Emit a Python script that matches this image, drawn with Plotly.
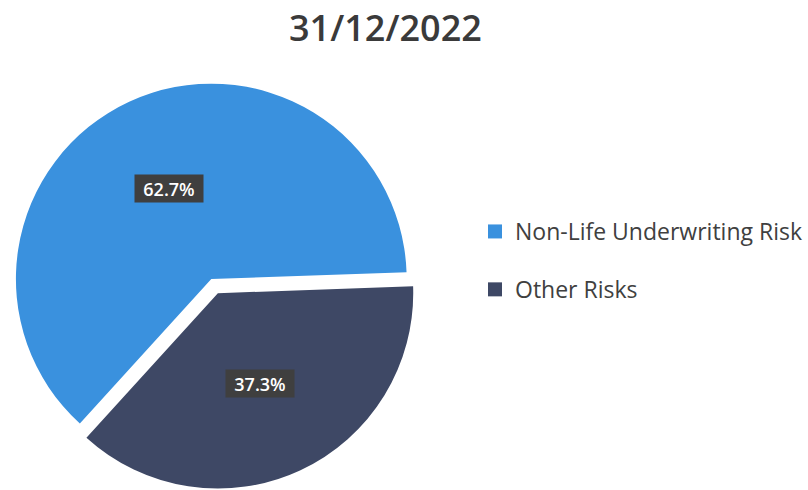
import math
import plotly.graph_objects as go

# ---- data ----
title_text = "31/12/2022"
categories = ["Non-Life Underwriting Risk", "Other Risks"]
shares = [62.7, 37.3]
pulls = [0.0, 0.08]
colors = ["#3a91de", "#3e4865"]

# ---- layout constants ----
W, H = 808, 490
M_TOP = 68
dom_x = [0.0, 0.523]
dom_y = [0.0, 1.0]
end_bearing = 88  # where the Other Risks slice begins (degrees clockwise from 12 o'clock)
total = sum(shares)
rotation = end_bearing + 360 * shares[1] / total
if rotation > 180:
    rotation -= 360

fig = go.Figure()
fig.add_trace(go.Pie(
    labels=categories,
    values=shares,
    pull=pulls,
    sort=False,
    direction="clockwise",
    rotation=rotation,
    marker=dict(colors=colors, line=dict(width=0)),
    textinfo="none",
    hoverinfo="label+percent",
    showlegend=False,
    domain=dict(x=dom_x, y=dom_y),
))

# legend entries (square markers) via empty scatter traces
for i, (c, col) in enumerate(zip(categories, colors)):
    fig.add_trace(go.Scatter(
        x=[None], y=[None], mode="markers", name=c,
        marker=dict(symbol="square", size=14, color=col),
        legendgroup=f"g{i}", showlegend=True,
    ))

# percentage labels with dark boxes, positioned from the slice angles
plot_h = H - M_TOP
box_w = (dom_x[1] - dom_x[0]) * W
box_h = (dom_y[1] - dom_y[0]) * plot_h
cx = (dom_x[0] + dom_x[1]) / 2 * W
cy = M_TOP + (1 - (dom_y[0] + dom_y[1]) / 2) * plot_h
r = min(box_w, box_h) / (2 + 2 * max(pulls))
start = rotation
for v, p in zip(shares, pulls):
    span = 360 * v / total
    mid = math.radians(start + span / 2)
    k = 0.51 + p
    px = cx + k * r * math.sin(mid)
    py = cy - k * r * math.cos(mid)
    fig.add_annotation(
        x=px / W, y=(H - py) / plot_h, xref="paper", yref="paper",
        text=f"{v / total * 100:.1f}%", showarrow=False,
        font=dict(family="Open Sans", size=18, color="white", weight=600),
        bgcolor="#3f3f3f", borderpad=0, width=68, height=27, align="center",
        xanchor="center", yanchor="middle",
    )
    start += span

fig.update_layout(
    width=W, height=H,
    margin=dict(l=0, r=0, t=M_TOP, b=0),
    paper_bgcolor="white", plot_bgcolor="white",
    title=dict(
        text=title_text, x=0.477, xanchor="center", y=1 - 28 / H, yanchor="middle",
        yref="container",
        font=dict(family="Open Sans", size=36, color="#3a3a3a", weight=600),
    ),
    xaxis=dict(visible=False), yaxis=dict(visible=False),
    legend=dict(
        x=475 / W, xanchor="left", y=(H - 210) / plot_h, yanchor="top",
        font=dict(family="Open Sans", size=23, color="#404040"),
        tracegroupgap=25, bgcolor="rgba(0,0,0,0)",
    ),
)

fig.write_html(
    "out.html",
    config={"displayModeBar": False},
    post_script="document.body.style.margin='0';",
)
